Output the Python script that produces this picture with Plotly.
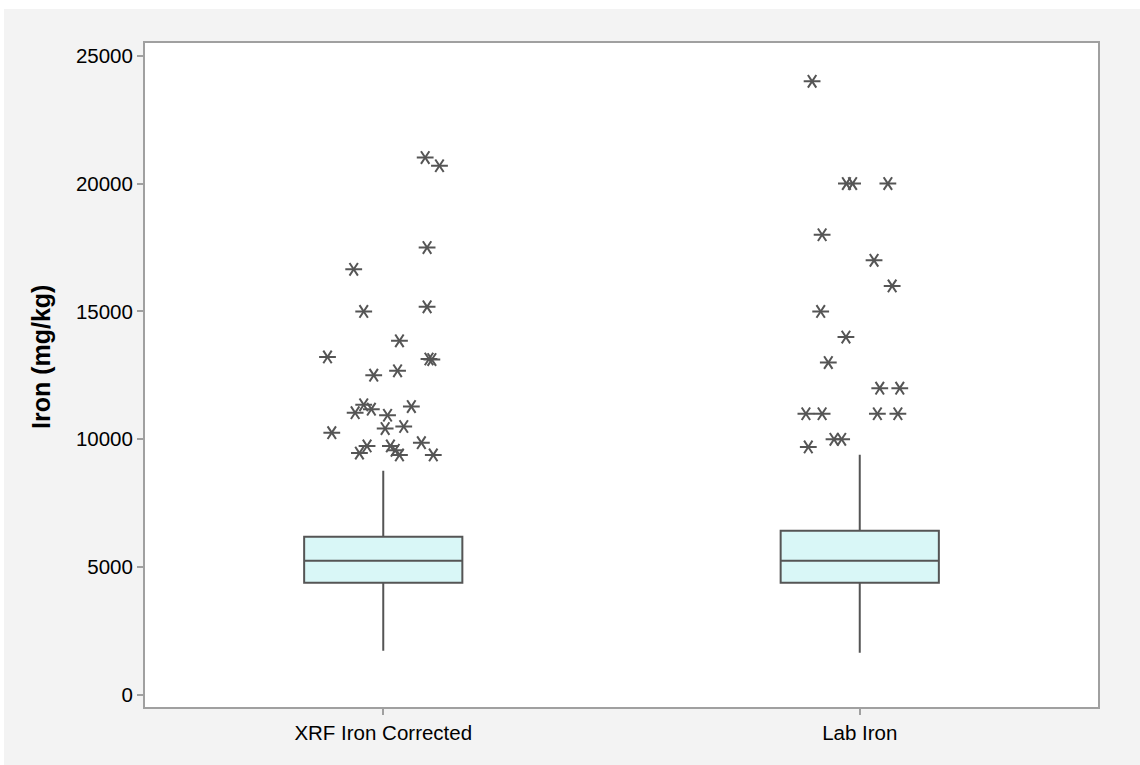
import plotly.graph_objects as go

# ---------------- data ----------------
categories = ["XRF Iron Corrected", "Lab Iron"]
q1 = [4390, 4390]
median = [5250, 5250]
q3 = [6190, 6420]
lower_whisker = [1730, 1650]
upper_whisker = [8770, 9400]

xrf_outliers = [21020, 20700, 17500, 16650, 15000, 15180, 13850, 13220, 13140, 13120,
                12510, 12680, 11350, 11040, 11180, 11280, 10940, 10420, 10500, 10260,
                9740, 9460, 9740, 9570, 9390, 9870, 9390]
xrf_jitter = [0.088, 0.118, 0.092, -0.062, -0.041, 0.092, 0.034, -0.117, 0.096, 0.102,
              -0.020, 0.030, -0.041, -0.059, -0.025, 0.059, 0.009, 0.004, 0.043, -0.108,
              -0.034, -0.050, 0.015, 0.025, 0.034, 0.080, 0.105]

lab_outliers = [24000, 20000, 20000, 20000, 18000, 17000, 16000, 15000, 14000, 13000,
                12000, 12000, 11000, 11000, 11000, 11000, 10000, 10000, 9700]
lab_jitter = [-0.100, -0.028, -0.015, 0.059, -0.079, 0.030, 0.068, -0.082, -0.029, -0.066,
              0.042, 0.084, -0.113, -0.079, 0.037, 0.080, -0.054, -0.038, -0.108]

y_ticks = [0, 5000, 10000, 15000, 20000, 25000]
y_tick_labels = ["0", "5000", "10000", "15000", "20000", "25000"]

# ---------------- style ----------------
BOX_LINE = "#555555"
BOX_FILL = "#d9f7f7"
FRAME = "#a0a0a0"
BG = "#f3f3f3"
FONT = "Liberation Sans, Arial, sans-serif"

fig = go.Figure()

for i, cat in enumerate(categories):
    fig.add_trace(go.Box(
        x=[i], q1=[q1[i]], median=[median[i]], q3=[q3[i]],
        lowerfence=[lower_whisker[i]], upperfence=[upper_whisker[i]],
        name=cat, width=0.332, whiskerwidth=0, boxpoints=False,
        fillcolor=BOX_FILL, line=dict(color=BOX_LINE, width=2),
        showlegend=False, hoverinfo="skip",
    ))

groups = [(0, xrf_outliers, xrf_jitter), (1, lab_outliers, lab_jitter)]
for idx, vals, jit in groups:
    xs = [idx + j for j in jit]
    for sym in ("y-left-open", "y-right-open"):
        fig.add_trace(go.Scatter(
            x=xs, y=vals, mode="markers", showlegend=False, hoverinfo="skip",
            marker=dict(symbol=sym, size=10.5, color=BOX_LINE,
                        line=dict(color=BOX_LINE, width=2)),
        ))

# white border strips around the grey background
W_PLOT = 1098 - 145
H_PLOT = 707 - 43
fig.add_shape(type="rect", xref="paper", yref="paper", layer="below",
              x0=(0 - 145) / W_PLOT, x1=(4 - 145) / W_PLOT,
              y0=(707 - 770) / H_PLOT, y1=(707 + 5) / H_PLOT,
              fillcolor="white", line=dict(width=0))
fig.add_shape(type="rect", xref="paper", yref="paper", layer="below",
              x0=(0 - 145) / W_PLOT, x1=(1145 - 145) / W_PLOT,
              y0=(707 - 9) / H_PLOT, y1=(707 + 5) / H_PLOT,
              fillcolor="white", line=dict(width=0))

fig.add_annotation(
    text="<b>Iron (mg/kg)</b>", textangle=-90, showarrow=False,
    xref="paper", yref="paper",
    x=(41 - 145) / W_PLOT, y=(707 - 357) / H_PLOT,
    xanchor="center", yanchor="middle",
    font=dict(family=FONT, size=25, color="black"),
)

fig.update_layout(
    width=1140, height=765,
    margin=dict(l=145, r=42, t=43, b=58),
    paper_bgcolor=BG, plot_bgcolor="white",
    font=dict(family=FONT, size=20, color="black"),
    xaxis=dict(
        range=[-0.5, 1.5], tickvals=[0, 1], ticktext=categories,
        showgrid=False, zeroline=False,
        showline=True, linecolor=FRAME, linewidth=2, mirror=True,
        ticks="outside", ticklen=6, tickcolor=FRAME, tickwidth=1.5,
        tickfont=dict(family=FONT, size=20.5, color="black"),
    ),
    yaxis=dict(
        range=[-470, 25500], tickvals=y_ticks, ticktext=y_tick_labels,
        showgrid=False, zeroline=False,
        showline=True, linecolor=FRAME, linewidth=2, mirror=True,
        ticks="outside", ticklen=6, tickcolor=FRAME, tickwidth=1.5,
        tickfont=dict(family=FONT, size=20.5, color="black"),
    ),
)

fig.write_html("out.html")
